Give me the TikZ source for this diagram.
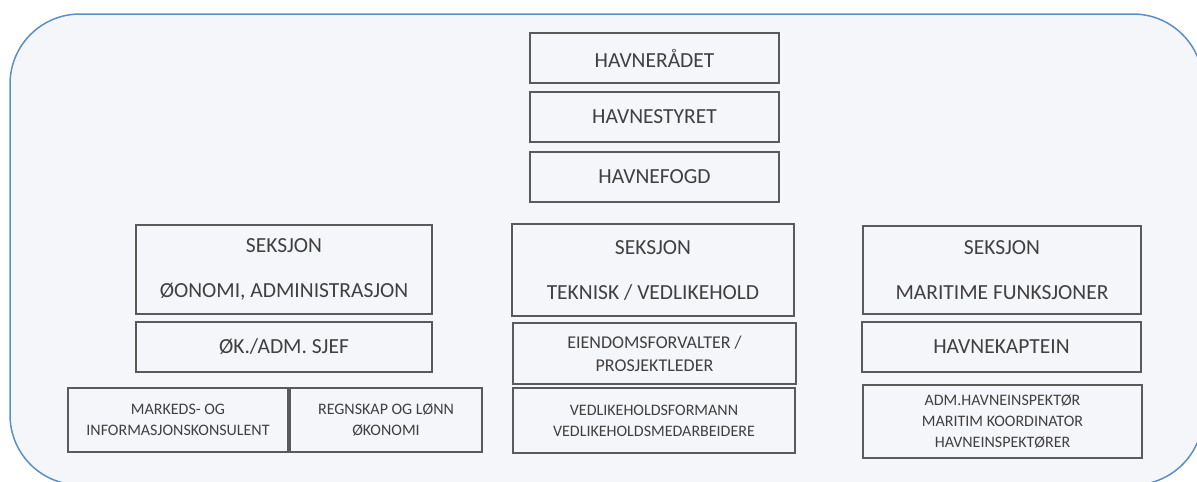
\documentclass[tikz,border=0pt]{standalone}
\usepackage{fontspec}
\setmainfont{Carlito}
\usepackage{tikz}
\usetikzlibrary{calc}

\definecolor{framefill}{HTML}{F5F6F9}
\definecolor{frameblue}{HTML}{5B8FC9}
\definecolor{boxline}{HTML}{5A5A5A}
\definecolor{boxtext}{HTML}{404040}

\begin{document}
\begin{tikzpicture}[x=1pt, y=-1pt]

        % Styles for the boxes, one size of text for each level
        \tikzset{
            unit/.style={draw=boxline, line width=1.4pt, text=boxtext,
                align=center, inner sep=0pt},
            bigtext/.style={font=\fontsize{21.5}{26}\selectfont},
            midtext/.style={font=\fontsize{18}{23}\selectfont},
            smalltext/.style={font=\fontsize{16}{21}\selectfont},
            sectext/.style={font=\fontsize{21.5}{45}\selectfont}
        }

        % Fixes the size of the picture, the frame is cut at right and bottom
        \useasboundingbox (0, 0) rectangle (1197, 482);
        \clip (0, 0) rectangle (1197, 482);

        % Rounded frame behind the whole chart
        \draw[frameblue, fill=framefill, line width=1.5pt, rounded corners=70pt]
            (10, 14) rectangle (1203, 485);

        % Top of the chart, three boxes stacked in the middle
        \begin{scope}[every node/.append style={unit, bigtext,
                minimum width=249, minimum height=50}]
            \node (raadet) at (654.5, 58) {HAVNERÅDET};
            \node (styret) at (654.5, 117) {HAVNESTYRET};
            \node (fogd) at (654.5, 177) {HAVNEFOGD};
        \end{scope}

        % Left section
        \node[unit, sectext, minimum width=296, minimum height=89]
            (secA) at (284, 269.5) {SEKSJON\\ØONOMI, ADMINISTRASJON};
        \node[unit, bigtext, minimum width=296, minimum height=50]
            (sjefA) at (284, 347) {ØK./ADM. SJEF};
        \node[unit, smalltext, minimum width=220, minimum height=64]
            (markA) at (178, 420) {MARKEDS- OG\\INFORMASJONSKONSULENT};
        \node[unit, smalltext, minimum width=192, minimum height=64]
            (regnA) at (386, 420) {REGNSKAP OG LØNN\\ØKONOMI};

        % Middle section
        \node[unit, sectext, minimum width=282, minimum height=92]
            (secB) at (653, 270) {SEKSJON\\TEKNISK / VEDLIKEHOLD};
        \node[unit, midtext, minimum width=283, minimum height=61]
            (lederB) at (654.5, 353.5) {EIENDOMSFORVALTER /\\PROSJEKTLEDER};
        \node[unit, smalltext, minimum width=282, minimum height=65]
            (vedlB) at (654, 420.5) {VEDLIKEHOLDSFORMANN\\VEDLIKEHOLDSMEDARBEIDERE};

        % Right section
        \node[unit, sectext, minimum width=278, minimum height=88]
            (secC) at (1002, 270) {SEKSJON\\MARITIME FUNKSJONER};
        \node[unit, bigtext, minimum width=279, minimum height=50]
            (kaptC) at (1001.5, 347) {HAVNEKAPTEIN};
        \node[unit, smalltext, minimum width=279, minimum height=73]
            (inspC) at (1002.5, 421.5)
            {ADM.HAVNEINSPEKTØR\\MARITIM KOORDINATOR\\HAVNEINSPEKTØRER};

\end{tikzpicture}
\end{document}
